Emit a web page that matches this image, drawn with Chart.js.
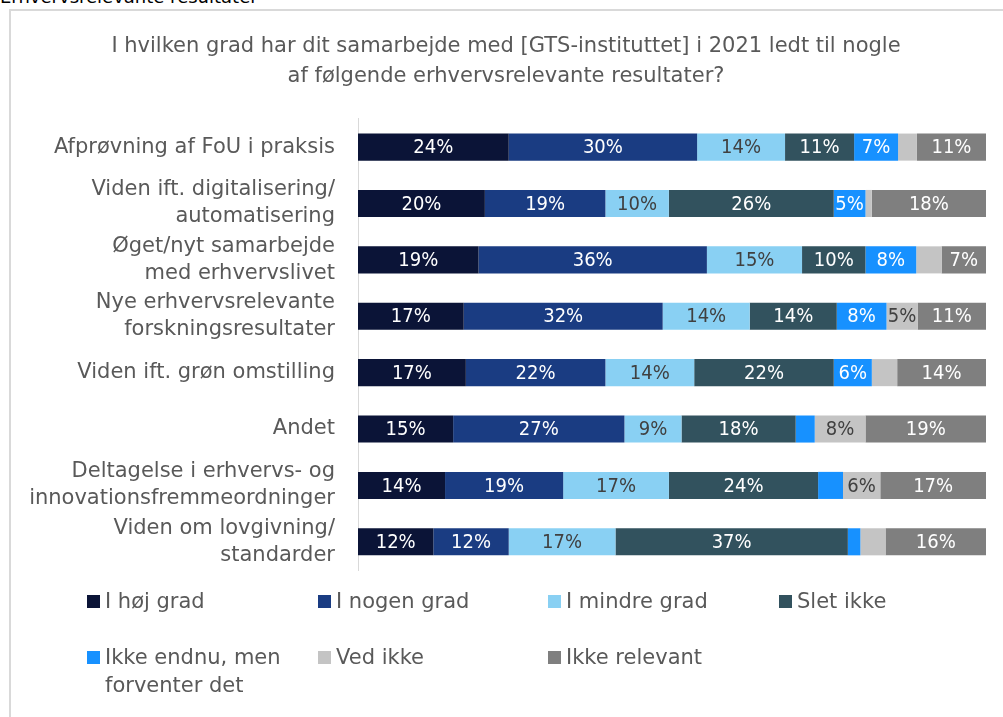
<!DOCTYPE html>
<html>
<head>
<meta charset="utf-8">
<script src="https://cdn.jsdelivr.net/npm/chart.js@4/dist/chart.umd.min.js"></script>
<style>
  html,body{margin:0;padding:0;background:#fff;}
  body{width:1003px;height:717px;position:relative;overflow:hidden;font-family:"DejaVu Sans",sans-serif;}
  #frame{position:absolute;left:9px;top:9px;width:1100px;height:800px;border:2px solid #d9d9d9;box-sizing:border-box;}
  #cut{position:absolute;left:0;top:-14px;font-size:18px;color:#000;white-space:nowrap;}
  #wrap{position:absolute;left:0;top:0;width:1003px;height:717px;}
  #legend{position:absolute;left:0;top:0;width:1003px;height:717px;pointer-events:none;}
  .li{position:absolute;color:#595959;font-size:21px;line-height:28px;}
  .li .bx{position:absolute;left:0;top:8px;width:13px;height:13px;}
  .li .tx{position:absolute;left:18px;top:0;white-space:nowrap;}
</style>
</head>
<body>
<div id="cut">Erhvervsrelevante resultater</div>
<div id="frame"></div>
<div id="wrap"><canvas id="c" width="1003" height="717"></canvas></div>
<div id="legend"></div>
<script>
const titleLines = ["I hvilken grad har dit samarbejde med [GTS-instituttet] i 2021 ledt til nogle", "af følgende erhvervsrelevante resultater?"];
const categories = [
  ["Afprøvning af FoU i praksis"],
  ["Viden ift. digitalisering/", "automatisering"],
  ["Øget/nyt samarbejde", "med erhvervslivet"],
  ["Nye erhvervsrelevante", "forskningsresultater"],
  ["Viden ift. grøn omstilling"],
  ["Andet"],
  ["Deltagelse i erhvervs- og", "innovationsfremmeordninger"],
  ["Viden om lovgivning/", "standarder"]
];
const seriesNames = ["I høj grad", "I nogen grad", "I mindre grad", "Slet ikke", "Ikke endnu, men forventer det", "Ved ikke", "Ikke relevant"];
const hoejGrad     = [24, 20, 19, 17, 17, 15, 14, 12];
const nogenGrad    = [30, 19, 36, 32, 22, 27, 19, 12];
const mindreGrad   = [14, 10, 15, 14, 14,  9, 17, 17];
const sletIkke     = [11, 26, 10, 14, 22, 18, 24, 37];
const ikkeEndnu    = [ 7,  5,  8,  8,  6,  3,  4,  2];
const vedIkke      = [ 3,  1,  4,  5,  4,  8,  6,  4];
const ikkeRelevant = [11, 18,  7, 11, 14, 19, 17, 16];
const seriesValues = [hoejGrad, nogenGrad, mindreGrad, sletIkke, ikkeEndnu, vedIkke, ikkeRelevant];
const colors = ["#0b1437", "#1a3c82", "#89d0f3", "#32525e", "#1791ff", "#c4c4c4", "#7f7f7f"];
const labelColors = ["#ffffff", "#ffffff", "#404040", "#ffffff", "#ffffff", "#404040", "#ffffff"];

const FONT = "DejaVu Sans";
const TEXT = "#595959";

// 100% stacked: each row is scaled to its total (as in a 100% stacked bar chart)
const rowTotals = categories.map((_, r) => seriesValues.reduce((s, arr) => s + arr[r], 0));
const shares = seriesValues.map(arr => arr.map((v, r) => v / rowTotals[r] * 100));

const labelPlugin = {
  id: "segLabels",
  afterDatasetsDraw(chart) {
    const ctx = chart.ctx;
    ctx.save();
    ctx.font = "20px 'DejaVu Sans Condensed', 'DejaVu Sans'";
    ctx.textAlign = "center";
    ctx.textBaseline = "middle";
    chart.data.datasets.forEach((ds, di) => {
      const meta = chart.getDatasetMeta(di);
      meta.data.forEach((el, i) => {
        const v = seriesValues[di][i];
        if (v < 5) return;
        const p = el.getProps(["x", "base", "y"], true);
        ctx.fillStyle = labelColors[di];
        ctx.fillText(v + "%", (p.x + p.base) / 2, p.y + 1);
      });
    });
    ctx.restore();
  }
};

new Chart(document.getElementById("c"), {
  type: "bar",
  data: {
    labels: categories,
    datasets: seriesNames.map((n, i) => ({
      label: n,
      data: shares[i],
      backgroundColor: colors[i],
      borderWidth: 0,
      barPercentage: 0.48,
      categoryPercentage: 1
    }))
  },
  options: {
    indexAxis: "y",
    responsive: false,
    animation: false,
    layout: { padding: { left: 26, right: 17, top: 0, bottom: 147 } },
    plugins: {
      legend: { display: false },
      tooltip: { enabled: false },
      title: {
        display: true,
        text: titleLines,
        color: TEXT,
        font: { family: FONT, size: 21, weight: "normal", lineHeight: 1.45 },
        padding: { top: 31, bottom: 27 }
      }
    },
    scales: {
      x: { stacked: true, min: 0, max: 100, display: false },
      y: {
        stacked: true,
        grid: { display: false },
        border: { display: true, color: "#d9d9d9", width: 1 },
        ticks: {
          color: TEXT,
          padding: 15,
          autoSkip: false,
          font: { family: FONT, size: 21, lineHeight: 1.28 }
        },
        afterFit(s) { s.width = 332; }
      }
    }
  },
  plugins: [labelPlugin]
});

// HTML legend built from the series arrays
const legendPos = [
  [87, 587], [318, 587], [548, 587], [779, 587],
  [87, 643], [318, 643], [548, 643]
];
const legendWrap = [null, null, null, null, ["Ikke endnu, men", "forventer det"], null, null];
const lg = document.getElementById("legend");
seriesNames.forEach((n, i) => {
  const d = document.createElement("div");
  d.className = "li";
  d.style.left = legendPos[i][0] + "px";
  d.style.top = legendPos[i][1] + "px";
  const b = document.createElement("div");
  b.className = "bx";
  b.style.background = colors[i];
  const t = document.createElement("div");
  t.className = "tx";
  t.innerHTML = (legendWrap[i] || [n]).join("<br>");
  d.appendChild(b); d.appendChild(t);
  lg.appendChild(d);
});
</script>
</body>
</html>
